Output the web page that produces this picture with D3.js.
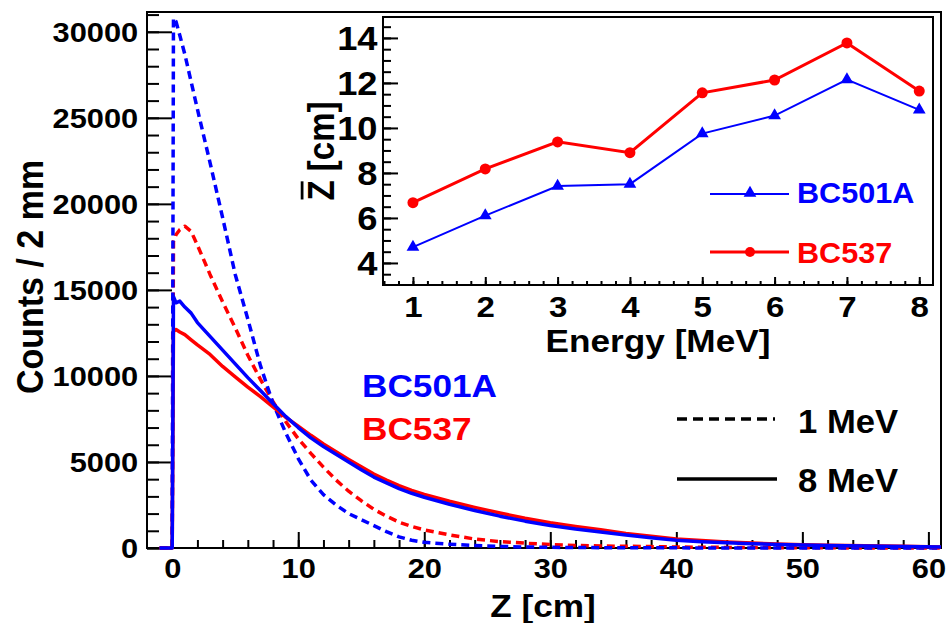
<!DOCTYPE html>
<html>
<head>
<meta charset="utf-8">
<script src="https://cdn.jsdelivr.net/npm/d3@7"></script>
<style>
  body { margin: 0; background: #fff; }
  svg text { font-family: "Liberation Sans", Arial, Helvetica, sans-serif; font-weight: bold; }
</style>
</head>
<body>
<div id="app"></div>
<script>
// values (counts per 2 mm bin vs depth Z in cm)
const zGrid = [-1, 0, 0.1, 0.3, 0.6, 1, 1.5, 2, 3, 4, 5, 6, 7, 8, 9, 10, 11, 12, 13, 14, 15, 16, 17, 18, 19, 20,
    22, 24, 26, 28, 30, 32, 34, 36, 38, 40, 42, 44, 46, 48, 50, 52, 55, 58, 61];
const bc501a1MeV = [0, 0, 30800, 30600, 29800, 28700, 27100, 25500, 22400, 19200, 15900, 13300, 10600, 8400, 6700, 5200, 3950, 3100, 2500, 2000, 1650, 1300, 950, 650, 450, 330,
    220, 140, 90, 60, 40, 30, 20, 15, 10, 10, 5, 5, 5, 0, 0, 0, 0, 0, 0];
const bc537_1MeV = [0, 0, 17800, 18200, 18500, 18700, 18400, 17600, 15900, 14300, 12800, 11200, 9800, 8500, 7350, 6350, 5500, 4700, 3950, 3300, 2750, 2250, 1850, 1500, 1250, 1050,
    760, 520, 370, 280, 200, 150, 120, 100, 80, 60, 45, 35, 25, 20, 15, 10, 5, 0, 0];
const bc501a8MeV = [0, 0, 14600, 14250, 14350, 14000, 13650, 13100, 12300, 11500, 10700, 9900, 9150, 8400, 7650, 7000, 6400, 5900, 5450, 5000, 4550, 4120, 3780, 3450, 3180, 2950,
    2540, 2180, 1850, 1560, 1310, 1100, 930, 760, 600, 450, 370, 305, 250, 210, 175, 148, 115, 85, 55];
const bc537_8MeV = [0, 0, 12600, 12700, 12550, 12400, 12100, 11800, 11250, 10550, 9950, 9350, 8800, 8200, 7600, 7080, 6550, 6050, 5600, 5150, 4720, 4300, 3950, 3620, 3350, 3120,
    2720, 2360, 2030, 1730, 1470, 1250, 1060, 850, 680, 530, 430, 350, 285, 235, 195, 165, 130, 100, 65];

// inset: mean depth vs neutron energy
const energies = [1, 2, 3, 4, 5, 6, 7, 8];
const bc501aMeanZ = [4.7, 6.1, 7.42, 7.5, 9.75, 10.55, 12.15, 10.8];
const bc537MeanZ = [6.68, 8.18, 9.38, 8.9, 11.56, 12.13, 13.78, 11.64];

const countTicks = [0, 5000, 10000, 15000, 20000, 25000, 30000];
const zTicks = [0, 10, 20, 30, 40, 50, 60];
const energyTicks = [1, 2, 3, 4, 5, 6, 7, 8];
const meanTicks = [4, 6, 8, 10, 12, 14];

const BLUE = "#0000ff", RED = "#ff0000";
const SX = 1.1; // the original lettering is a little wider than Arial bold

const svg = d3.select("#app").append("svg")
    .attr("width", 947)
    .attr("height", 623);

// ---------- main plot ----------
const main = { left: 147, right: 941, top: 12, bottom: 548 };
const x = d3.scaleLinear().domain([-2, 61]).range([main.left, main.right]);
const y = d3.scaleLinear().domain([0, 31150]).range([main.bottom, main.top]);

function styleAxis(g) {
    g.select(".domain").remove();
    g.selectAll(".tick line").attr("stroke", "#000").attr("stroke-width", 2);
}

// minor ticks
svg.append("g")
    .attr("transform", `translate(0,${main.bottom})`)
    .call(d3.axisBottom(x).tickValues(d3.range(2, 61, 2)).tickSize(-8).tickFormat(""))
    .call(styleAxis);
svg.append("g")
    .attr("transform", `translate(${main.left},0)`)
    .call(d3.axisLeft(y).tickValues(d3.range(0, 31001, 1000)).tickSize(-12).tickFormat(""))
    .call(styleAxis);

// major ticks + labels
const xAxis = svg.append("g")
    .attr("transform", `translate(0,${main.bottom})`)
    .call(d3.axisBottom(x).tickValues(zTicks).tickSize(-16).tickPadding(10).tickFormat(d3.format("d")))
    .call(styleAxis);
xAxis.selectAll("text").style("font-size", "28px").attr("fill", "#000")
    .attr("transform", `scale(${SX},1)`);

const yAxis = svg.append("g")
    .attr("transform", `translate(${main.left},0)`)
    .call(d3.axisLeft(y).tickValues(countTicks).tickSize(-25).tickPadding(8).tickFormat(d3.format("d")))
    .call(styleAxis);
yAxis.selectAll("text").style("font-size", "28px").attr("fill", "#000")
    .attr("dy", "0.35em")
    .attr("transform", `scale(${SX},1)`);

svg.append("rect")
    .attr("x", main.left).attr("y", main.top)
    .attr("width", main.right - main.left).attr("height", main.bottom - main.top)
    .attr("fill", "none").attr("stroke", "#000").attr("stroke-width", 2);

// curves
const line = d3.line().x((d) => x(d[0])).y((d) => y(d[1]));
const curves = [
    { values: bc537_1MeV, color: RED, dash: "8,5" },
    { values: bc501a1MeV, color: BLUE, dash: "8,5" },
    { values: bc537_8MeV, color: RED, dash: null },
    { values: bc501a8MeV, color: BLUE, dash: null },
];
curves.forEach((c) => {
    svg.append("path")
        .datum(d3.zip(zGrid, c.values))
        .attr("d", line)
        .attr("fill", "none")
        .attr("stroke", c.color)
        .attr("stroke-width", 3.5)
        .attr("stroke-linejoin", "round")
        .attr("stroke-dasharray", c.dash);
});

// axis titles
svg.append("text")
    .attr("transform", `translate(543,617) scale(${SX},1)`)
    .attr("text-anchor", "middle")
    .style("font-size", "32px")
    .text("Z [cm]");
svg.append("text")
    .attr("transform", `translate(43,277) scale(${SX},1) rotate(-90)`)
    .attr("text-anchor", "middle")
    .style("font-size", "34px")
    .text("Counts / 2 mm");

// legend text helper
function label(txt, px, py, size, color, sx = SX) {
    svg.append("text")
        .attr("transform", `translate(${px},${py}) scale(${sx},1)`)
        .style("font-size", size + "px")
        .attr("fill", color)
        .text(txt);
}
label("BC501A", 362, 397, 32, BLUE);
label("BC537", 362, 440, 32, RED);

svg.append("line").attr("x1", 677).attr("x2", 775).attr("y1", 419).attr("y2", 419)
    .attr("stroke", "#000").attr("stroke-width", 3.5).attr("stroke-dasharray", "10,6");
svg.append("line").attr("x1", 677).attr("x2", 777).attr("y1", 479).attr("y2", 479)
    .attr("stroke", "#000").attr("stroke-width", 3.5);
label("1 MeV", 798, 433, 33, "#000", 1.05);
label("8 MeV", 798, 492, 33, "#000", 1.05);

// ---------- inset ----------
const inset = { left: 383, right: 933, top: 17, bottom: 285 };
const ix = d3.scaleLinear().domain([0.586, 8.19]).range([inset.left, inset.right]);
const iy = d3.scaleLinear().domain([3.02, 14.93]).range([inset.bottom, inset.top]);

svg.append("g")
    .attr("transform", `translate(0,${inset.bottom})`)
    .call(d3.axisBottom(ix).tickValues(d3.range(0.6, 8.2, 0.2)).tickSize(-4).tickFormat(""))
    .call(styleAxis);
svg.append("g")
    .attr("transform", `translate(${inset.left},0)`)
    .call(d3.axisLeft(iy).tickValues(d3.range(3.5, 15, 0.5)).tickSize(-8).tickFormat(""))
    .call(styleAxis);

const ixAxis = svg.append("g")
    .attr("transform", `translate(0,${inset.bottom})`)
    .call(d3.axisBottom(ix).tickValues(energyTicks).tickSize(-8).tickPadding(11).tickFormat(d3.format("d")))
    .call(styleAxis);
ixAxis.selectAll("text").style("font-size", "30px").attr("fill", "#000")
    .attr("transform", `scale(${SX},1)`);

const iyAxis = svg.append("g")
    .attr("transform", `translate(${inset.left},0)`)
    .call(d3.axisLeft(iy).tickValues(meanTicks).tickSize(-15).tickPadding(5).tickFormat(d3.format("d")))
    .call(styleAxis);
iyAxis.selectAll("text").style("font-size", "33px").attr("fill", "#000")
    .attr("dy", "0.35em")
    .attr("transform", `scale(${SX},1)`);

svg.append("rect")
    .attr("x", inset.left).attr("y", inset.top)
    .attr("width", inset.right - inset.left).attr("height", inset.bottom - inset.top)
    .attr("fill", "none").attr("stroke", "#000").attr("stroke-width", 2);

const iline = d3.line().x((d) => ix(d[0])).y((d) => iy(d[1]));
const triangle = d3.symbol().type(d3.symbolTriangle).size(70);

svg.append("path")
    .datum(d3.zip(energies, bc537MeanZ))
    .attr("d", iline).attr("fill", "none").attr("stroke", RED).attr("stroke-width", 3);
svg.selectAll(".dot537")
    .data(d3.zip(energies, bc537MeanZ))
    .enter().append("circle")
    .attr("class", "dot537")
    .attr("cx", (d) => ix(d[0])).attr("cy", (d) => iy(d[1]))
    .attr("r", 5.5).attr("fill", RED);

svg.append("path")
    .datum(d3.zip(energies, bc501aMeanZ))
    .attr("d", iline).attr("fill", "none").attr("stroke", BLUE).attr("stroke-width", 2);
svg.selectAll(".tri501")
    .data(d3.zip(energies, bc501aMeanZ))
    .enter().append("path")
    .attr("class", "tri501")
    .attr("transform", (d) => `translate(${ix(d[0])},${iy(d[1])})`)
    .attr("d", triangle).attr("fill", BLUE);

// inset titles
svg.append("text")
    .attr("transform", `translate(658,352) scale(${SX},1)`)
    .attr("text-anchor", "middle")
    .style("font-size", "32px")
    .text("Energy [MeV]");

const yt = svg.append("g").attr("transform", `translate(334,151) scale(${SX},1) rotate(-90)`);
const ytText = yt.append("text")
    .attr("text-anchor", "middle")
    .style("font-size", "33px")
    .text("Z [cm]");
const fullW = ytText.node().getComputedTextLength();
const zW = ytText.node().getSubStringLength(0, 1);
yt.append("line")
    .attr("x1", -fullW / 2 + 1).attr("x2", -fullW / 2 + zW - 1)
    .attr("y1", -29).attr("y2", -29)
    .attr("stroke", "#000").attr("stroke-width", 2.5);

// inset legend
svg.append("line").attr("x1", 710).attr("x2", 789).attr("y1", 194).attr("y2", 194)
    .attr("stroke", BLUE).attr("stroke-width", 2);
svg.append("path").attr("transform", "translate(750,193)").attr("d", triangle).attr("fill", BLUE);
svg.append("line").attr("x1", 710).attr("x2", 789).attr("y1", 252).attr("y2", 252)
    .attr("stroke", RED).attr("stroke-width", 3);
svg.append("circle").attr("cx", 750).attr("cy", 252).attr("r", 5).attr("fill", RED);
label("BC501A", 797, 203, 30, BLUE, 1.02);
label("BC537", 797, 263, 30, RED, 1.02);
</script>
</body>
</html>
